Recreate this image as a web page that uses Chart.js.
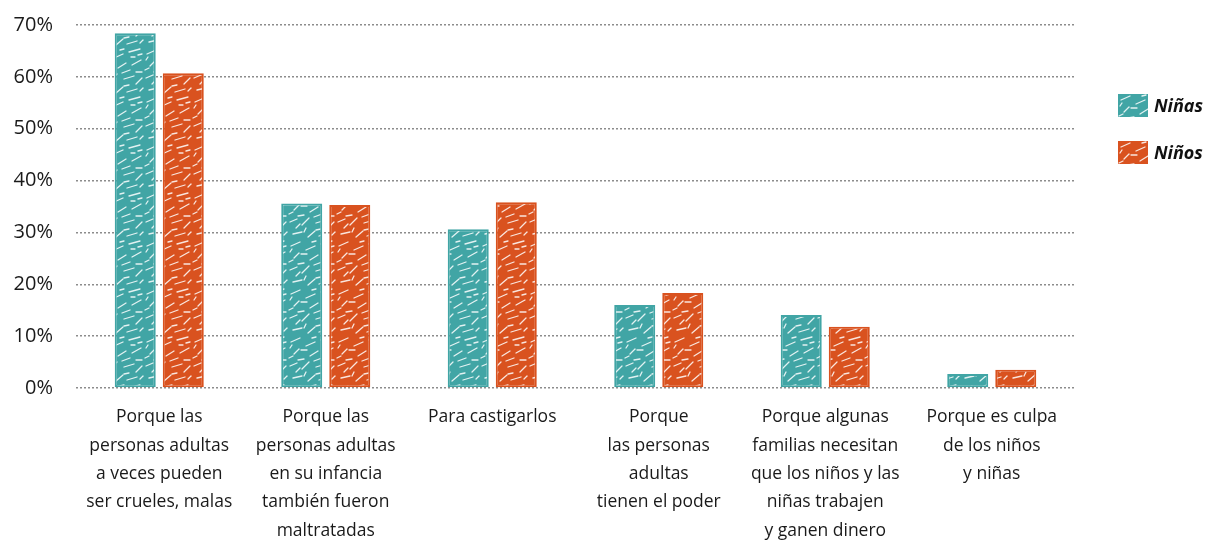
<!DOCTYPE html>
<html>
<head>
<meta charset="utf-8">
<script src="https://cdn.jsdelivr.net/npm/chart.js@4.4.1/dist/chart.umd.min.js"></script>
<style>
    html, body { margin: 0; padding: 0; background: #fff; }
    #wrap { position: relative; width: 1206px; height: 544px; }
    #legend { position: absolute; left: 1118px; top: 92px; font-family: "Open Sans", "Noto Sans", sans-serif; }
    .item { display: flex; align-items: center; height: 26px; margin-bottom: 21px; font-size: 18px; font-weight: bold; font-style: italic; color: #111; }
    .item canvas { margin-right: 6px; }
</style>
</head>
<body>
<div id="wrap">
    <canvas id="chart" width="1206" height="544"></canvas>
    <div id="legend"></div>
</div>
<script>
// Categories (multi-line labels)
const categories = [
    ['Porque las', 'personas adultas', 'a veces pueden', 'ser crueles, malas'],
    ['Porque las', 'personas adultas', 'en su infancia', 'también fueron', 'maltratadas'],
    ['Para castigarlos'],
    ['Porque', 'las personas', 'adultas', 'tienen el poder'],
    ['Porque algunas', 'familias necesitan', 'que los niños y las', 'niñas trabajen', 'y ganen dinero'],
    ['Porque es culpa', 'de los niños', 'y niñas']
];

// Series values (%)
const ninas = [68.4, 35.6, 30.6, 16.0, 14.1, 2.7];
const ninos = [60.7, 35.3, 35.8, 18.3, 11.8, 3.5];

const seriesNames = ['Niñas', 'Niños'];
const seriesColors = ['#41a5a5', '#d9521f'];

// y ticks
const yMax = 70;
const yStep = 10;

// scribble-ish texture for bars (fixed strokes, just decoration)
function makePattern(color) {
    const c = document.createElement('canvas');
    c.width = 48; c.height = 48;
    const g = c.getContext('2d');
    g.fillStyle = color;
    g.fillRect(0, 0, 48, 48);
    g.strokeStyle = 'rgba(255,255,255,0.85)';
    g.lineWidth = 1.3;
    g.lineCap = 'round';
    const segs = [
        [3, 6, 12, 2], [18, 10, 27, 6], [33, 4, 44, 1], [6, 18, 11, 13],
        [22, 20, 30, 15], [36, 17, 45, 12], [2, 30, 9, 27], [14, 33, 21, 26],
        [28, 31, 38, 28], [40, 36, 46, 30], [5, 42, 14, 40], [20, 45, 27, 39],
        [31, 44, 41, 41], [10, 24, 16, 23], [24, 2, 28, 1], [40, 24, 46, 24],
        [13, 14, 19, 14], [28, 38, 33, 37], [2, 12, 4, 9], [42, 7, 46, 6],
        [8, 36, 12, 32], [26, 25, 34, 22], [16, 40, 18, 36], [35, 9, 39, 9],
        [1, 22, 5, 20], [44, 43, 47, 40]
    ];
    segs.forEach(s => {
        g.beginPath();
        g.moveTo(s[0], s[1]);
        g.lineTo(s[2], s[3]);
        g.stroke();
    });
    return g.createPattern(c, 'repeat');
}

const ctx = document.getElementById('chart').getContext('2d');
const patterns = seriesColors.map(makePattern);
const fontFamily = '"Open Sans", "Noto Sans", sans-serif';

new Chart(ctx, {
    type: 'bar',
    data: {
        labels: categories,
        datasets: [
            { label: seriesNames[0], data: ninas, backgroundColor: patterns[0], borderColor: seriesColors[0], borderWidth: 2, borderSkipped: false },
            { label: seriesNames[1], data: ninos, backgroundColor: patterns[1], borderColor: seriesColors[1], borderWidth: 2, borderSkipped: false }
        ]
    },
    options: {
        responsive: false,
        animation: false,
        layout: { padding: { top: 25, right: 131, left: 0, bottom: 0 } },
        datasets: { bar: { categoryPercentage: 0.577, barPercentage: 0.854 } },
        plugins: {
            legend: { display: false },
            tooltip: { enabled: false }
        },
        scales: {
            x: {
                afterFit: s => { s.height = 156; },
                grid: { display: false },
                border: { display: false },
                ticks: {
                    color: '#1a1a1a',
                    font: { family: fontFamily, size: 17.5, lineHeight: 1.62 },
                    maxRotation: 0,
                    autoSkip: false,
                    padding: 7
                }
            },
            y: {
                min: 0,
                max: yMax,
                afterFit: s => { s.width = 76; s.paddingTop = 0; s.paddingBottom = 0; },
                grid: { color: '#8c8c8c', lineWidth: 1.5, drawTicks: false },
                border: { display: false, dash: [2, 2] },
                ticks: {
                    stepSize: yStep,
                    padding: 23,
                    color: '#1a1a1a',
                    font: { family: fontFamily, size: 20 },
                    callback: v => v + '%'
                }
            }
        }
    }
});

// legend
const legend = document.getElementById('legend');
seriesNames.forEach((name, i) => {
    const item = document.createElement('div');
    item.className = 'item';
    const sw = document.createElement('canvas');
    sw.width = 30; sw.height = 23;
    const g = sw.getContext('2d');
    g.fillStyle = patterns[i];
    g.fillRect(0, 0, 30, 23);
    item.appendChild(sw);
    const t = document.createElement('span');
    t.textContent = name;
    item.appendChild(t);
    legend.appendChild(item);
});
</script>
</body>
</html>
